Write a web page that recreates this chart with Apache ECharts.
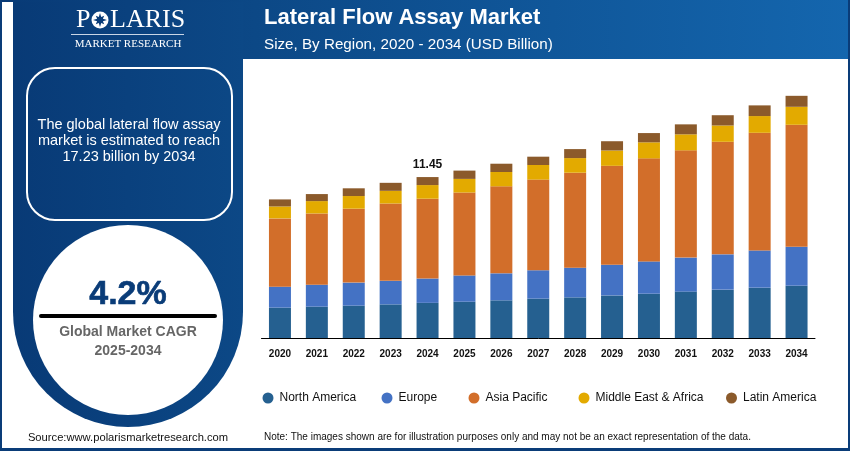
<!DOCTYPE html>
<html>
<head>
<meta charset="utf-8">
<style>
  html, body { margin: 0; padding: 0; background: #fff; }
  #chart { width: 850px; height: 451px; }
</style>
<script src="https://cdn.jsdelivr.net/npm/echarts@6/dist/echarts.min.js"></script>
</head>
<body>
<div id="chart"></div>
<script>
// Chart data
const years = ['2020', '2021', '2022', '2023', '2024', '2025', '2026', '2027', '2028', '2029', '2030', '2031', '2032', '2033', '2034'];
const northAmerica = [2.16, 2.23, 2.30, 2.39, 2.50, 2.58, 2.68, 2.80, 2.89, 3.03, 3.15, 3.30, 3.44, 3.58, 3.72];
const europe = [1.49, 1.56, 1.64, 1.68, 1.73, 1.87, 1.92, 2.02, 2.11, 2.18, 2.30, 2.42, 2.51, 2.65, 2.77];
const asiaPacific = [4.86, 5.07, 5.26, 5.50, 5.68, 5.90, 6.19, 6.45, 6.76, 7.04, 7.33, 7.63, 8.01, 8.37, 8.68];
const middleEastAfrica = [0.85, 0.88, 0.90, 0.90, 0.97, 0.97, 1.02, 1.04, 1.04, 1.09, 1.14, 1.14, 1.16, 1.19, 1.28];
const latinAmerica = [0.50, 0.50, 0.55, 0.57, 0.57, 0.59, 0.59, 0.59, 0.64, 0.66, 0.66, 0.71, 0.73, 0.76, 0.78];
const labelledYear = '2024';
const labelledTotal = '11.45';

const regions = [
    { name: 'North America', data: northAmerica, color: '#256090', legendLeft: 257.5 },
    { name: 'Europe', data: europe, color: '#4472C4', legendLeft: 376.5 },
    { name: 'Asia Pacific', data: asiaPacific, color: '#D26E2A', legendLeft: 463.5 },
    { name: 'Middle East & Africa', data: middleEastAfrica, color: '#E3AA00', legendLeft: 573.5 },
    { name: 'Latin America', data: latinAmerica, color: '#8B5A2B', legendLeft: 721 }
];

const font = '"Liberation Sans", Arial, sans-serif';
const serif = '"Liberation Serif", serif';
const navy = '#0A3C78';

// Static text helper for the side panel and header
function text(x, y, value, size, color, extra) {
    return {
        type: 'text',
        x: x,
        y: y,
        silent: true,
        style: Object.assign({
            text: value,
            fill: color,
            font: size + 'px ' + font,
            align: 'center',
            verticalAlign: 'middle'
        }, extra || {})
    };
}

function panelFill() {
    return new echarts.graphic.LinearGradient(0, 0, 1, 0, [
        { offset: 0, color: '#083A76' },
        { offset: 1, color: '#0C4886' }
    ]);
}

// Frame, header and left panel shapes
const background = [
    {
        type: 'rect',
        shape: { x: 0, y: 0, width: 850, height: 59 },
        style: {
            fill: new echarts.graphic.LinearGradient(0, 0, 1, 0, [
                { offset: 0, color: '#083A76' },
                { offset: 0.3, color: '#0C4886' },
                { offset: 1, color: '#1466AE' }
            ])
        }
    },
    { type: 'rect', shape: { x: 0, y: 0, width: 2, height: 451 }, style: { fill: navy } },
    { type: 'rect', shape: { x: 848, y: 0, width: 2, height: 451 }, style: { fill: navy } },
    { type: 'rect', shape: { x: 0, y: 448, width: 850, height: 3 }, style: { fill: navy } },
    { type: 'rect', shape: { x: 2, y: 2, width: 11, height: 446 }, style: { fill: '#FFFFFF' } },
    { type: 'rect', shape: { x: 13, y: 2, width: 230, height: 310 }, style: { fill: panelFill() } },
    { type: 'circle', shape: { cx: 128, cy: 312, r: 115 }, style: { fill: panelFill() } },
    { type: 'circle', shape: { cx: 128, cy: 320, r: 95 }, style: { fill: '#FFFFFF' } },
    {
        type: 'rect',
        shape: { x: 27, y: 68, width: 205, height: 152, r: 28 },
        style: { fill: 'transparent', stroke: '#FFFFFF', lineWidth: 2 }
    }
];

// Logo
const logo = [
    text(76, 20, 'P', 26, '#FFFFFF', { font: '26px ' + serif, align: 'left' }),
    { type: 'circle', shape: { cx: 100, cy: 20, r: 8.5 }, style: { fill: '#FFFFFF' } },
    {
        type: 'polygon',
        shape: {
            points: [
                [100, 13], [101.2, 17.1], [104.2, 15.8], [102.9, 18.8],
                [107, 20], [102.9, 21.2], [104.2, 24.2], [101.2, 22.9],
                [100, 27], [98.8, 22.9], [95.8, 24.2], [97.1, 21.2],
                [93, 20], [97.1, 18.8], [95.8, 15.8], [98.8, 17.1]
            ]
        },
        style: { fill: navy }
    },
    text(110, 20, 'LARIS', 26, '#FFFFFF', { font: '26px ' + serif, align: 'left' }),
    { type: 'rect', shape: { x: 71, y: 34, width: 113, height: 1 }, style: { fill: '#C9D6E6' } },
    text(128, 44, 'MARKET RESEARCH', 11, '#FFFFFF', { font: '11px ' + serif })
];

// Panel copy, title and footer
const copy = [
    text(129, 125, 'The global lateral flow assay', 14.5, '#FFFFFF'),
    text(129, 141, 'market is estimated to reach', 14.5, '#FFFFFF'),
    text(129, 157, '17.23 billion by 2034', 14.5, '#FFFFFF'),
    text(128, 295, '4.2%', 34, navy, { font: 'bold 34px ' + font, stroke: navy, lineWidth: 0.6 }),
    {
        type: 'line',
        shape: { x1: 41, y1: 316, x2: 215, y2: 316 },
        style: { stroke: '#000000', lineWidth: 4, lineCap: 'round' }
    },
    text(128, 332, 'Global Market CAGR', 14, '#666666', { font: 'bold 14px ' + font }),
    text(128, 351, '2025-2034', 14, '#666666', { font: 'bold 14px ' + font }),
    text(128, 438, 'Source:www.polarismarketresearch.com', 11.2, '#111111'),
    text(264, 18, 'Lateral Flow Assay Market', 22, '#FFFFFF', { font: 'bold 22px ' + font, align: 'left' }),
    text(264, 45, 'Size, By Region, 2020 - 2034 (USD Billion)', 15.2, '#FFFFFF', { align: 'left' }),
    text(264, 437, 'Note: The images shown are for illustration purposes only and may not be an exact representation of the data.', 10, '#111111', { align: 'left' })
];

const chart = echarts.init(document.getElementById('chart'));
let option = {
    animation: false,
    backgroundColor: '#FFFFFF',
    textStyle: { fontFamily: font },
    graphic: { elements: background.concat(logo, copy) },
    // One legend per region, the gaps in the picture are not even
    legend: regions.map(region => ({
        data: [region.name],
        left: region.legendLeft,
        top: 387,
        icon: 'circle',
        itemWidth: 11,
        itemHeight: 11,
        itemGap: 0,
        selectedMode: false,
        textStyle: { color: '#111111', fontSize: 12, fontFamily: font, padding: [0, 0, 0, 1] }
    })),
    grid: { left: 261.5, top: 85, width: 553.5, height: 253 },
    xAxis: {
        type: 'category',
        data: years,
        axisTick: { show: false },
        axisLine: { lineStyle: { color: '#000000', width: 1 } },
        axisLabel: { color: '#111111', fontSize: 10, fontWeight: 'bold', margin: 11 }
    },
    yAxis: {
        type: 'value',
        min: 0,
        max: 18,
        show: false
    },
    series: regions.map((region, index) => ({
        name: region.name,
        type: 'bar',
        stack: 'total',
        barWidth: 22,
        data: region.data,
        itemStyle: { color: region.color },
        // Only the 2024 total is printed, above the top segment
        label: index === regions.length - 1 ? {
            show: true,
            position: 'top',
            distance: 6,
            color: '#111111',
            fontSize: 12,
            fontWeight: 'bold',
            formatter: params => params.name === labelledYear ? labelledTotal : ''
        } : { show: false }
    }))
};
chart.setOption(option);
</script>
</body>
</html>
